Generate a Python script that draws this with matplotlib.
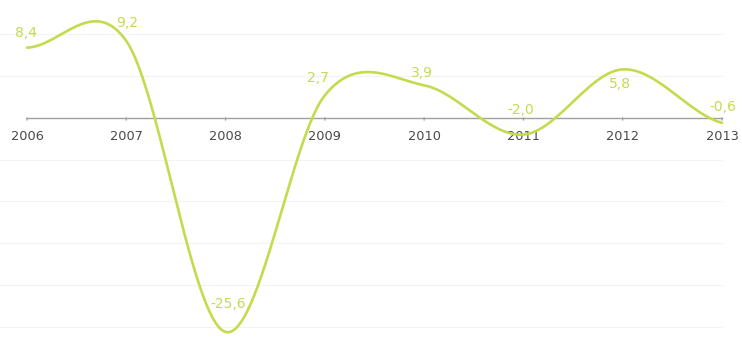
import numpy as np
import matplotlib.pyplot as plt

years = [2006, 2007, 2008, 2009, 2010, 2011, 2012, 2013]
values = [8.4, 9.2, -25.6, 2.7, 3.9, -2.0, 5.8, -0.6]
labels = ['8,4', '9,2', '-25,6', '2,7', '3,9', '-2,0', '5,8', '-0,6']

# label offsets in pixels (dx, dy) from each point
label_offsets = [(-1, 15), (1, 18), (3, 28), (-7, 17), (-2, 12), (-3, 25), (-3, -15), (1, 16)]

GREEN = '#c6da4e'


def catmull_rom(x, y, n=80):
    """
    uniform catmull-rom curve through (x, y), n samples per segment
    """
    x = np.asarray(x, float)
    y = np.asarray(y, float)
    yp = np.concatenate([[y[0]], y, [y[-1]]])
    m = (yp[2:] - yp[:-2]) / 2
    xs, ys = [], []
    for i in range(len(x) - 1):
        t = np.linspace(0, 1, n, endpoint=(i == len(x) - 2))
        h00 = 2 * t ** 3 - 3 * t ** 2 + 1
        h10 = t ** 3 - 2 * t ** 2 + t
        h01 = -2 * t ** 3 + 3 * t ** 2
        h11 = t ** 3 - t ** 2
        xs.append(x[i] + t * (x[i + 1] - x[i]))
        ys.append(h00 * y[i] + h10 * m[i] + h01 * y[i + 1] + h11 * m[i + 1])
    return np.concatenate(xs), np.concatenate(ys)


fig = plt.figure(figsize=(7.42, 3.62), dpi=100)
ax = fig.add_axes([0, 0, 1, 1])
x0 = 2006 - 27 / 99.3
ax.set_xlim(x0, 2013 + 20 / 99.3)
ax.set_ylim(-29.2, 14.1)
ax.axis('off')

# faint grid every 5 units
for g in range(-25, 15, 5):
    if g != 0:
        ax.plot([x0, years[-1]], [g, g], color='#f3f3f3', lw=0.8, zorder=0)

# zero axis with downward ticks
ax.plot([years[0], years[-1]], [0, 0], color='#a0a0a0', lw=1.0, zorder=1)
for yr in years:
    ax.annotate('', xy=(yr, 0), xytext=(0, -5), textcoords='offset pixels',
                arrowprops=dict(arrowstyle='-', color='#a0a0a0', lw=1.0))
    ax.annotate(str(yr), xy=(yr, 0), xytext=(0, -19), textcoords='offset pixels',
                ha='center', va='center', fontsize=9.3, color='#4a4a4a')

xs, ys = catmull_rom(years, values)
ax.plot(xs, ys, color=GREEN, lw=1.9, zorder=3, solid_capstyle='round')

for yr, v, lab, (dx, dy) in zip(years, values, labels, label_offsets):
    ax.annotate(lab, xy=(yr, v), xytext=(dx, dy), textcoords='offset pixels',
                ha='center', va='center', fontsize=10, color=GREEN, zorder=4)

fig.savefig('out.png', dpi=100)
